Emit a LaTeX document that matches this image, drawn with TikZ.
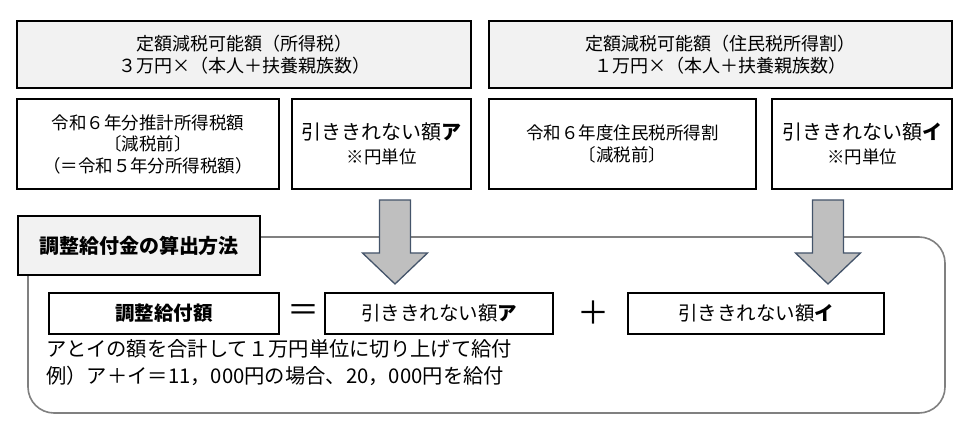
\documentclass[tikz,border=0pt]{standalone}
\usepackage{fontspec}
\setmainfont{Noto Sans CJK JP}
\usepackage{tikz}
\definecolor{panel}{HTML}{F2F2F2}
\definecolor{arrowfill}{HTML}{BFBFBF}
\definecolor{arrowline}{HTML}{44546A}
\definecolor{frameline}{HTML}{808080}
\tikzset{
  box/.style={draw=black, line width=2.2pt, fill=white, inner sep=0pt, align=center},
  headbox/.style={box, fill=panel, font=\fontsize{18}{22}\selectfont},
  infobox/.style={box, font=\fontsize{17.5}{21.5}\selectfont},
  restbox/.style={box, font=\fontsize{20}{25}\selectfont},
  rowbox/.style={box, font=\fontsize{19.5}{24}\selectfont},
  opsign/.style={font=\fontsize{32}{32}\selectfont, inner sep=0pt},
  blockarrow/.style={fill=arrowfill, draw=arrowline, line width=1.3pt, line join=miter},
  frame/.style={draw=frameline, line width=1.6pt, rounded corners=26pt}
}
\newcommand{\unitnote}{\\[-1pt]{\fontsize{17.5}{20}\selectfont ※円単位}}

\begin{document}
\begin{tikzpicture}[x=1pt, y=-1pt]
  \useasboundingbox (0,0) rectangle (954,422);

  % upper row: income tax side and resident tax side
  \node[headbox, minimum width=454, minimum height=67] (taxhead) at (244,54.5)
    {定額減税可能額（所得税）\\３万円×（本人＋扶養親族数）};
  \node[headbox, minimum width=463, minimum height=67] (reshead) at (720.5,54.5)
    {定額減税可能額（住民税所得割）\\１万円×（本人＋扶養親族数）};

  \node[infobox, minimum width=262, minimum height=90] (taxest) at (148,144)
    {令和６年分推計所得税額\\〔減税前〕\\（＝令和５年分所得税額）};
  \node[restbox, minimum width=179, minimum height=90] (restA) at (381.5,144)
    {引ききれない額\textbf{ア}\unitnote};
  \node[infobox, minimum width=267, minimum height=90] (resest) at (622.5,144)
    {令和６年度住民税所得割\\〔減税前〕};
  \node[restbox, minimum width=180, minimum height=90] (restI) at (862,144)
    {引ききれない額\textbf{イ}\unitnote};

  % lower frame with its title tab
  \draw[frame] (28,237) rectangle (945,413);
  \node[box, fill=panel, minimum width=242, minimum height=59,
        font=\fontsize{20}{24}\selectfont\bfseries] (method) at (139,245.5)
    {調整給付金の算出方法};

  % block arrows
  \foreach \ax in {395,828}
    \draw[blockarrow] (\ax-15.5,200) -- (\ax+15.5,200) -- (\ax+15.5,253)
      -- (\ax+32.5,253) -- (\ax,284) -- (\ax-32.5,253) -- (\ax-15.5,253) -- cycle;

  % the formula
  \node[rowbox, minimum width=230, minimum height=41] (payout) at (164,313.5)
    {\textbf{調整給付額}};
  \node[opsign] (eq) at (303,313) {＝};
  \node[rowbox, minimum width=228, minimum height=41] (partA) at (439,313.5)
    {引ききれない額\textbf{ア}};
  \node[opsign] (plus) at (593,313) {＋};
  \node[rowbox, minimum width=256, minimum height=41] (partI) at (756,313.5)
    {引ききれない額\textbf{イ}};

  \node[anchor=west, align=left, inner sep=0pt,
        font=\fontsize{20.3}{27}\selectfont] (rule) at (46,363)
    {アとイの額を合計して１万円単位に切り上げて給付\\例）ア＋イ＝11，000円の場合、20，000円を給付};
\end{tikzpicture}
\end{document}
